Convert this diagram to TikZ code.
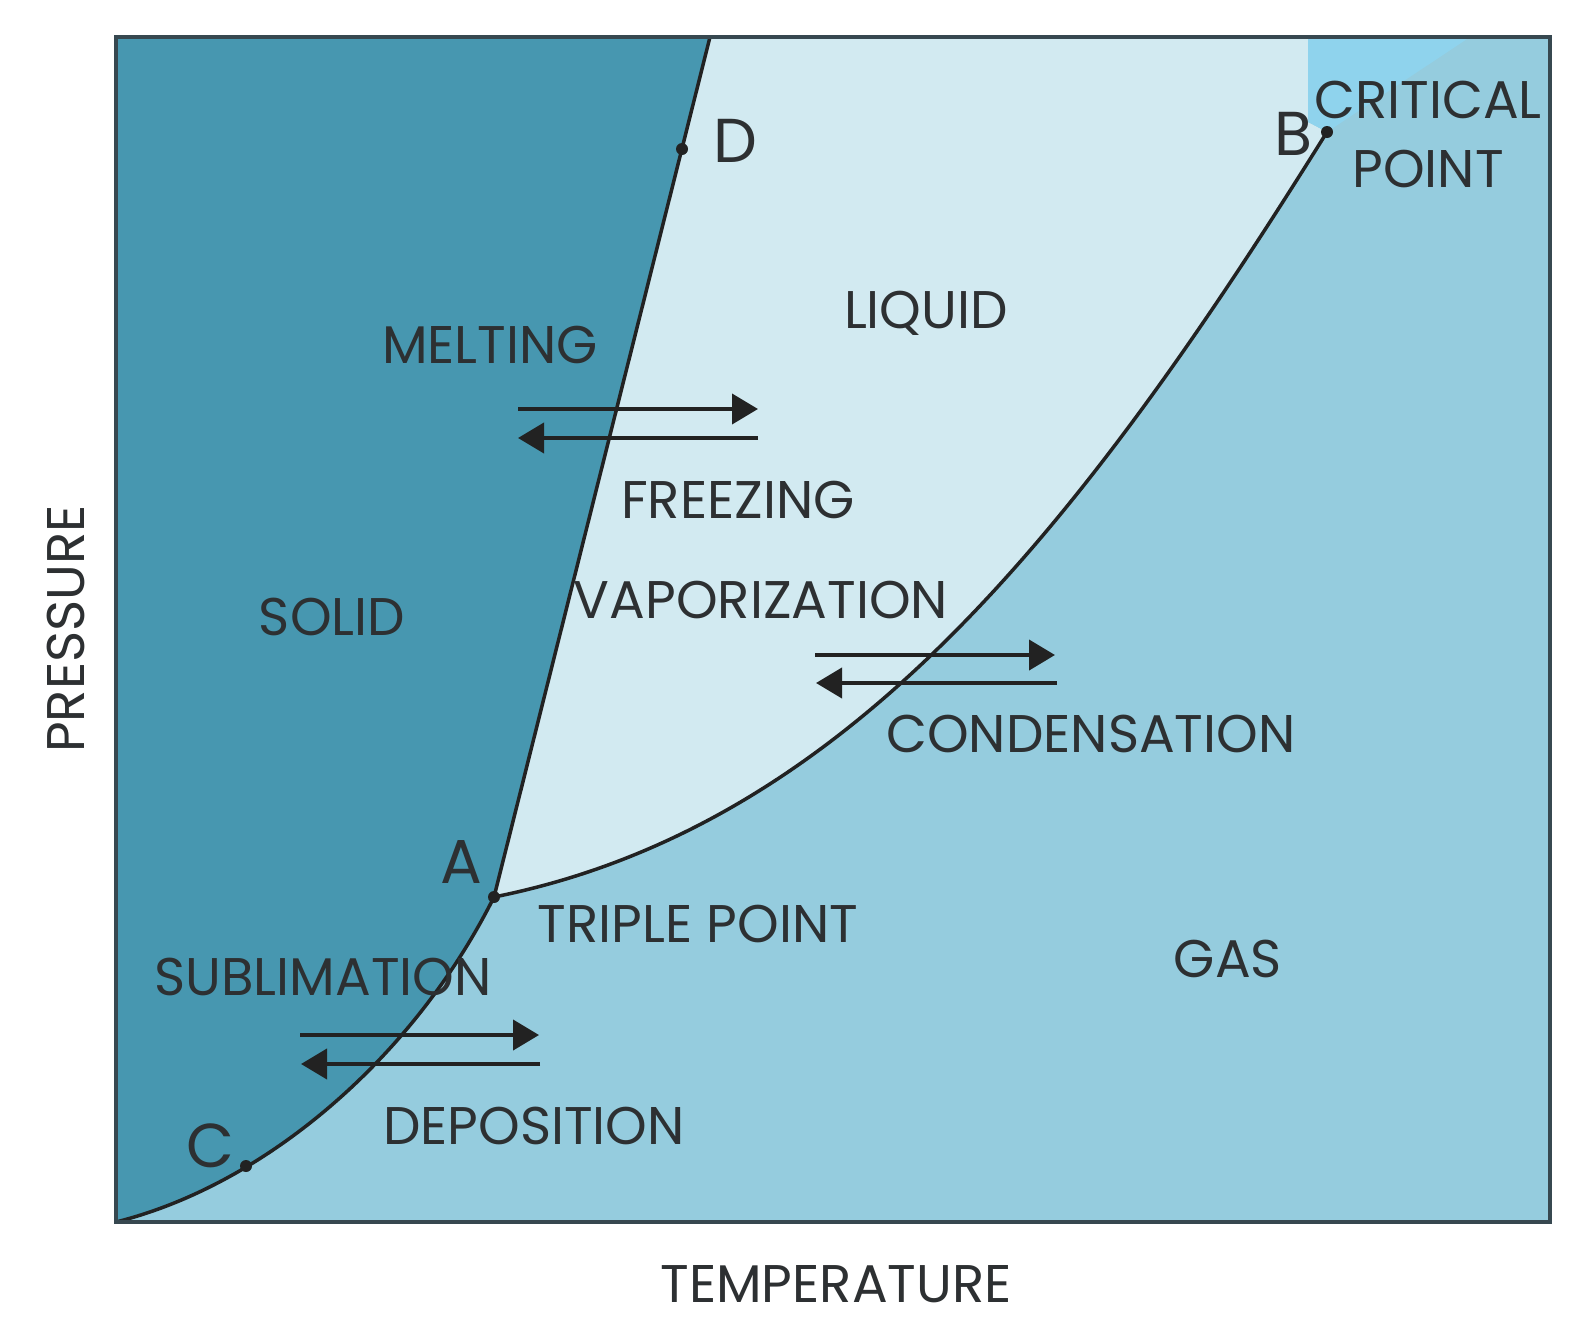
\documentclass[tikz,border=0pt]{standalone}
\usepackage{fontspec}
\setmainfont{Poppins}
\usetikzlibrary{arrows.meta}
\definecolor{solidc}{RGB}{71,151,176}
\definecolor{liqc}{RGB}{210,234,241}
\definecolor{gasc}{RGB}{149,204,222}
\definecolor{critc}{RGB}{143,211,237}
\definecolor{inkc}{RGB}{34,34,34}
\definecolor{txtc}{RGB}{45,48,50}
\definecolor{framec}{RGB}{55,72,80}
\begin{document}
\begin{tikzpicture}[x=1pt,y=-1pt,
  curve/.style={draw=inkc,line width=3.5pt},
  framebox/.style={draw=framec,line width=4pt},
  dotmark/.style={fill=inkc},
  lbl/.style={text=txtc,font=\fontsize{53}{58}\selectfont,inner sep=0pt,anchor=base},
  ptlbl/.style={text=txtc,font=\fontsize{62}{66}\selectfont,inner sep=0pt,anchor=base},
  flow/.style={draw=inkc,line width=4pt,-{Triangle[length=26pt,width=30pt]}}]
\useasboundingbox (0,0) rectangle (1590,1339);
\fill[white] (0,0) rectangle (1590,1339);
% frame corners and key points
\coordinate (BL) at (116,1222);
\coordinate (TL) at (116,37);
\coordinate (TR) at (1550,37);
\coordinate (M) at (710,37);
\coordinate (A) at (494,897);
\coordinate (B) at (1327,132);
\coordinate (C) at (246,1166);
\coordinate (D) at (682,149);
\coordinate (K1) at (1308,37);
\coordinate (K2) at (1308,122);
\coordinate (K3) at (1470,37);
% regions
\fill[gasc] (BL) rectangle (TR);
\fill[solidc] (BL) -- (TL) -- (M) -- (A) .. controls (414,1057) and (266,1184.5) .. (BL) -- cycle;
\fill[liqc] (A) -- (M) -- (K1) -- (K2) -- (B) .. controls (1077,533) and (844,827) .. (A) -- cycle;
\fill[critc] (K1) -- (K2) -- (B) -- (K3) -- cycle;
% phase boundaries
\draw[curve] (BL) .. controls (266,1184.5) and (414,1057) .. (A) -- (M);
\draw[curve] (A) .. controls (844,827) and (1077,533) .. (B);
\draw[framebox] (BL) rectangle (TR);
% points
\fill[dotmark] (A) circle[radius=6pt];
\fill[dotmark] (B) circle[radius=6pt];
\fill[dotmark] (C) circle[radius=6pt];
\fill[dotmark] (D) circle[radius=6pt];
% arrows
\coordinate (m1) at (518,409); \coordinate (m2) at (758,409);
\coordinate (f1) at (758,438); \coordinate (f2) at (518,438);
\coordinate (v1) at (815,655); \coordinate (v2) at (1055,655);
\coordinate (c1) at (1057,683); \coordinate (c2) at (816,683);
\coordinate (s1) at (300,1035); \coordinate (s2) at (539,1035);
\coordinate (d1) at (540,1064); \coordinate (d2) at (301,1064);
\draw[flow] (m1) -- (m2);
\draw[flow] (f1) -- (f2);
\draw[flow] (v1) -- (v2);
\draw[flow] (c1) -- (c2);
\draw[flow] (s1) -- (s2);
\draw[flow] (d1) -- (d2);
% labels
\node[lbl] (tsolid) at (332,635) {SOLID};
\node[lbl] (tliquid) at (926,328) {LIQUID};
\node[lbl] (tgas) at (1228,977) {GAS};
\node[lbl] (tmelt) at (490,363) {MELTING};
\node[lbl] (tfreeze) at (738,518) {FREEZING};
\node[lbl] (tvap) at (761,618) {VAPORIZATION};
\node[lbl] (tcond) at (1091,752) {CONDENSATION};
\node[lbl] (ttriple) at (698,942) {TRIPLE POINT};
\node[lbl] (tsub) at (323,995) {SUBLIMATION};
\node[lbl] (tdep) at (534,1144) {DEPOSITION};
\node[lbl] (tcrit) at (1428,118) {CRITICAL};
\node[lbl] (tpoint) at (1428,187) {POINT};
\node[lbl] (ttemp) at (836,1302) {TEMPERATURE};
\node[lbl,anchor=center,rotate=90] (tpress) at (66,629) {PRESSURE};
\node[ptlbl] (la) at (461,883) {A};
\node[ptlbl] (lb) at (1293,155) {B};
\node[ptlbl] (lc) at (210,1167) {C};
\node[ptlbl] (ld) at (735,162) {D};
\end{tikzpicture}
\end{document}
